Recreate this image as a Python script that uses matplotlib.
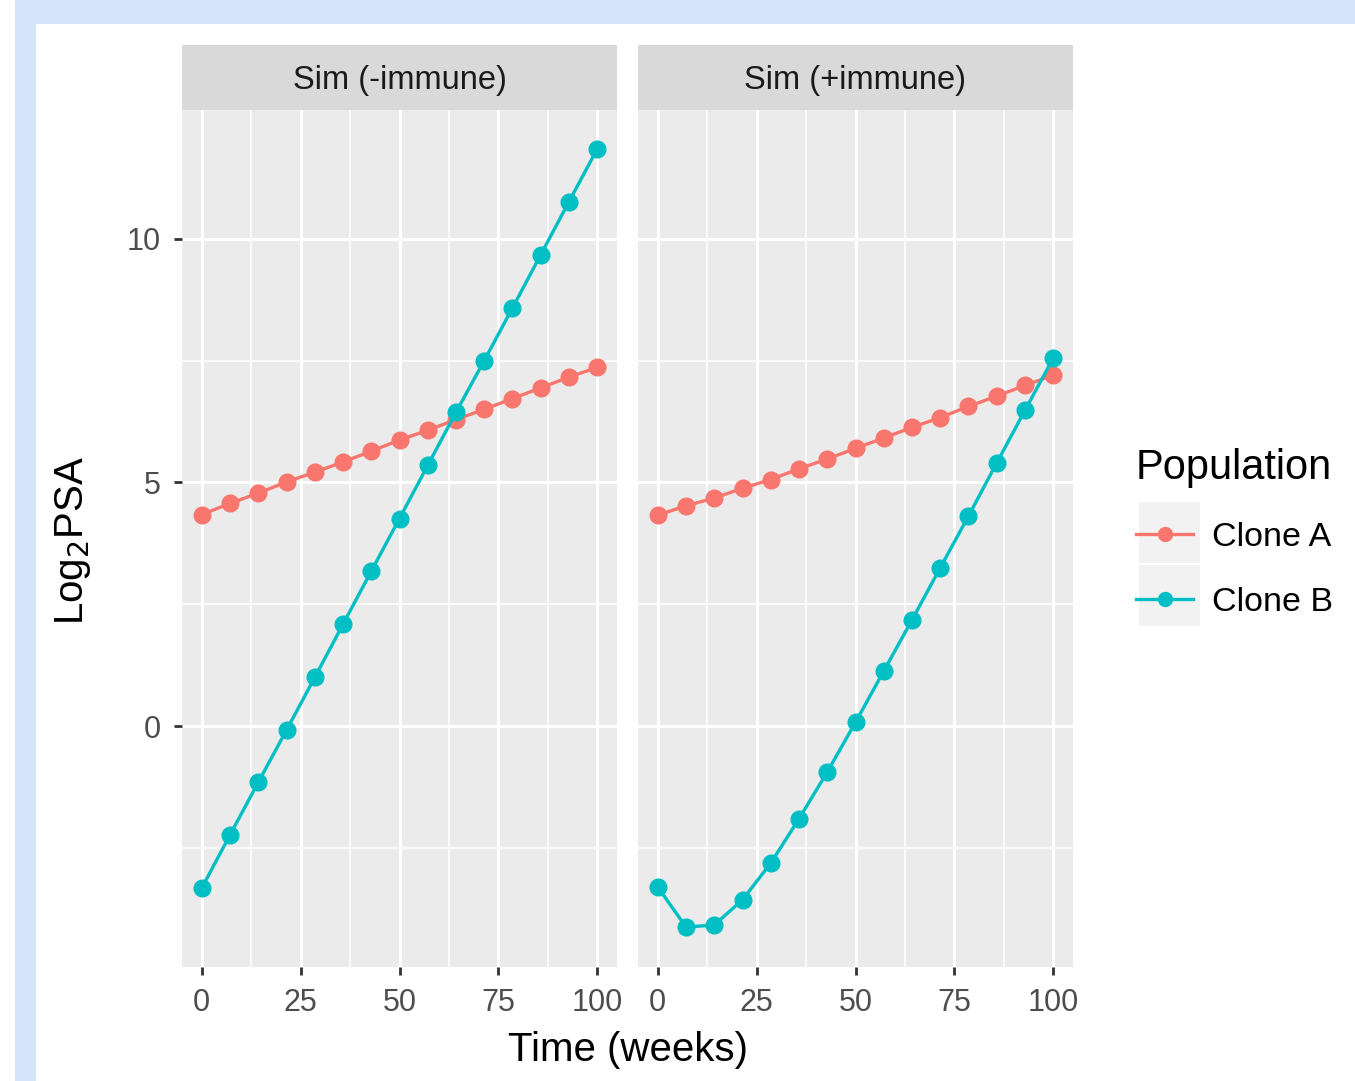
"""
Clone A / Clone B log2 PSA, faceted ggplot-style
"""
import matplotlib
matplotlib.use("Agg")
import matplotlib.pyplot as plt
from matplotlib.patches import Rectangle

plt.rcParams['font.family'] = ['Liberation Sans', 'DejaVu Sans']

# data
weeks = [0, 7.14, 14.29, 21.43, 28.57, 35.71, 42.86, 50, 57.14, 64.29, 71.43, 78.57, 85.71, 92.86, 100]
panels = ["Sim (-immune)", "Sim (+immune)"]
series = ["Clone A", "Clone B"]

clone_a_minus = [4.34, 4.57, 4.78, 5.01, 5.21, 5.42, 5.64, 5.87, 6.07, 6.29, 6.50, 6.72, 6.94, 7.16, 7.36]
clone_b_minus = [-3.32, -2.23, -1.15, -0.08, 1.00, 2.09, 3.18, 4.26, 5.35, 6.44, 7.50, 8.58, 9.67, 10.76, 11.84]
clone_a_plus = [4.33, 4.52, 4.68, 4.88, 5.06, 5.28, 5.48, 5.70, 5.91, 6.13, 6.33, 6.56, 6.77, 6.99, 7.20]
clone_b_plus = [-3.30, -4.12, -4.08, -3.56, -2.81, -1.90, -0.94, 0.08, 1.13, 2.18, 3.25, 4.31, 5.40, 6.48, 7.55]

colors = {"Clone A": "#F8766D", "Clone B": "#00BFC4"}
panel_data = {
    "Sim (-immune)": {"Clone A": clone_a_minus, "Clone B": clone_b_minus},
    "Sim (+immune)": {"Clone A": clone_a_plus, "Clone B": clone_b_plus},
}

W, H = 1355, 1081
fig = plt.figure(figsize=(W / 100, H / 100), dpi=100)
fig.patch.set_facecolor("white")

# light blue frame round the picture
fig.patches.append(Rectangle((15 / W, 0), 1 - 15 / W, 1, transform=fig.transFigure,
                             facecolor="#D5E3FB", edgecolor="none", zorder=-10))
fig.patches.append(Rectangle((36 / W, 0), 1 - 36 / W, 1 - 24 / H, transform=fig.transFigure,
                             facecolor="white", edgecolor="none", zorder=-9))

lefts = [182, 638]
pw = 435
bottom, top = 967, 110
strip_top = 45

axes = []
for i, name in enumerate(panels):
    ax = fig.add_axes([lefts[i] / W, 1 - bottom / H, pw / W, (bottom - top) / H])
    ax.set_facecolor("#EBEBEB")
    for s in ax.spines.values():
        s.set_visible(False)
    ax.set_xlim(-5, 105)
    ax.set_ylim(-4.94, 12.64)
    ax.set_xticks([0, 25, 50, 75, 100])
    ax.set_xticks([12.5, 37.5, 62.5, 87.5], minor=True)
    ax.set_yticks([0, 5, 10])
    ax.set_yticks([-2.5, 2.5, 7.5], minor=True)
    ax.grid(which="major", color="white", linewidth=2.2)
    ax.grid(which="minor", color="white", linewidth=1.1)
    ax.set_axisbelow(True)
    ax.tick_params(which="major", length=6, width=2, color="#333333",
                   labelsize=22, labelcolor="#4D4D4D", pad=9)
    ax.tick_params(which="minor", length=0)
    if i == 1:
        ax.tick_params(axis="y", which="major", left=False, labelleft=False)

    for sname in series:
        ax.plot(weeks, panel_data[name][sname], color=colors[sname], linewidth=2.4,
                marker="o", markersize=12, label=sname, zorder=3)

    # facet strip
    sax = fig.add_axes([lefts[i] / W, 1 - top / H, pw / W, (top - strip_top) / H])
    sax.set_facecolor("#D9D9D9")
    sax.set_xticks([])
    sax.set_yticks([])
    for s in sax.spines.values():
        s.set_visible(False)
    sax.text(0.5, 0.45, name, ha="center", va="center", fontsize=23.5,
             color="#1A1A1A", transform=sax.transAxes)
    axes.append(ax)

fig.text(628 / W, 1 - 1050 / H, "Time (weeks)", ha="center", va="center", fontsize=29)
fig.text(73 / W, 1 - 540 / H, "Log$_2$PSA", ha="center", va="center", fontsize=29,
         rotation=90)

# legend
handles, labels = axes[0].get_legend_handles_labels()
leg = fig.legend(handles, labels, loc="upper left", bbox_to_anchor=(1105 / W, 1 - 417 / H),
                 frameon=False, fontsize=24.5, title="Population", title_fontsize=30,
                 handlelength=1.7, handletextpad=0.55, labelspacing=1.0,
                 alignment="left")
for h in leg.legend_handles:
    h.set_markersize(10)

# grey key boxes behind legend markers
for k in range(2):
    fig.patches.append(Rectangle((1139 / W, 1 - (563 + k * 63) / H), 61 / W, 61 / H,
                                 transform=fig.transFigure, facecolor="#F2F2F2",
                                 edgecolor="none", zorder=-5))

fig.savefig("out.png", dpi=100)
